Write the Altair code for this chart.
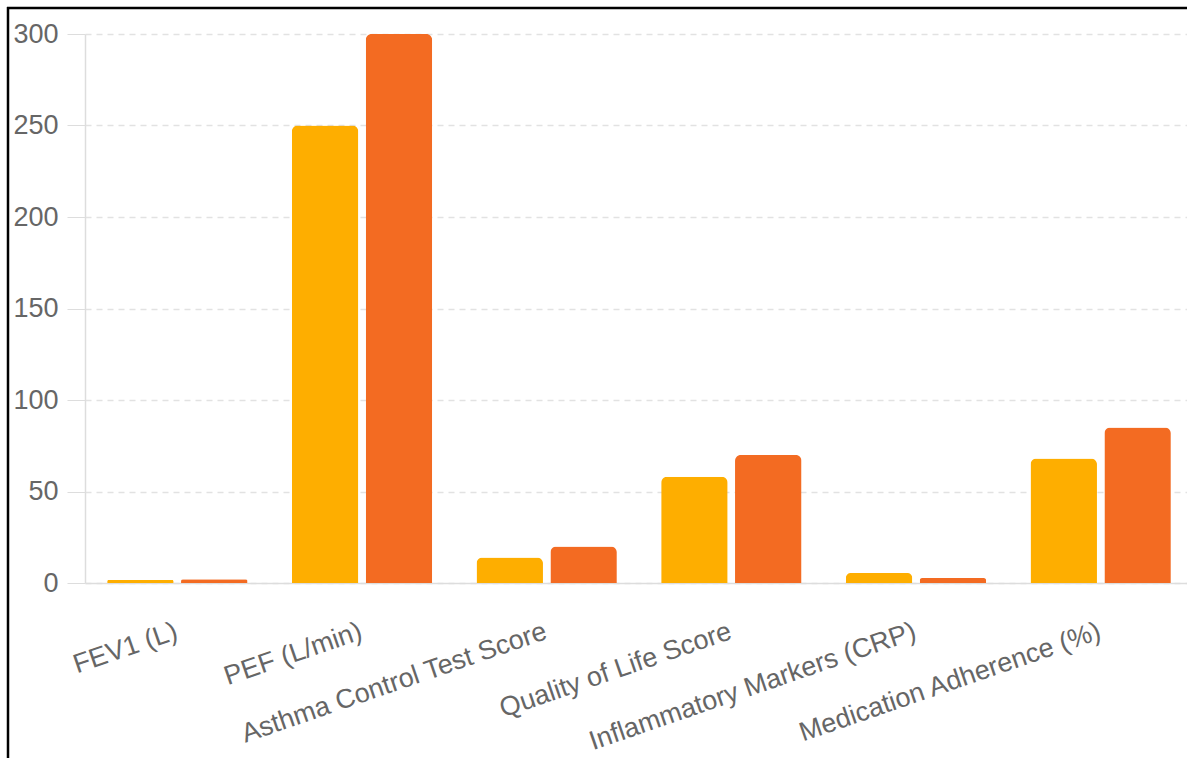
import altair as alt
import pandas as pd

categories = [
    "FEV1 (L)",
    "PEF (L/min)",
    "Asthma Control Test Score",
    "Quality of Life Score",
    "Inflammatory Markers (CRP)",
    "Medication Adherence (%)",
]
series_names = ["Baseline", "Follow-up"]
baseline = [1.6, 250, 14, 58, 5.5, 68]
follow_up = [2.1, 300, 20, 70, 2.7, 85]
y_ticks = [0, 50, 100, 150, 200, 250, 300]
colors = ["#FEAE00", "#F36B22"]

rows = []
for c, b, f in zip(categories, baseline, follow_up):
    rows.append({"Metric": c, "Series": series_names[0], "Value": b})
    rows.append({"Metric": c, "Series": series_names[1], "Value": f})
df = pd.DataFrame(rows)

W = 1102
H = 549
FULL_W = 1108  # plot continues past the cropped right edge

bars = alt.Chart(df).mark_bar(
    cornerRadiusTopLeft=6, cornerRadiusTopRight=6
).encode(
    x=alt.X(
        "Metric:N",
        sort=categories,
        title=None,
        scale=alt.Scale(paddingInner=0.2, paddingOuter=0.1, range=[0, FULL_W]),
        axis=alt.Axis(
            labelAngle=-19,
            labelAlign="right",
            labelBaseline="top",
            labelFontSize=27,
            labelColor="#666666",
            labelFont="Liberation Sans",
            labelPadding=35,
            labelOffset=-5,
            ticks=False,
            domain=True,
            domainColor="#dddddd",
            domainWidth=1.5,
            grid=False,
            labelOverlap=False,
            labelLimit=0,
        ),
    ),
    xOffset=alt.XOffset(
        "Series:N", sort=series_names,
        scale=alt.Scale(paddingInner=0.1, paddingOuter=0.05),
    ),
    y=alt.Y(
        "Value:Q",
        title=None,
        scale=alt.Scale(domain=[0, 300], nice=False),
        axis=alt.Axis(
            values=y_ticks,
            labelFontSize=27,
            labelColor="#666666",
            labelFont="Liberation Sans",
            labelPadding=9,
            tickSize=18,
            tickColor="#dddddd",
            domain=True,
            domainColor="#dddddd",
            domainWidth=1.5,
            grid=True,
            gridColor="#e2e2e2",
            gridDash=[6, 5],
            gridWidth=1.5,
        ),
    ),
    color=alt.Color(
        "Series:N", sort=series_names,
        scale=alt.Scale(domain=series_names, range=colors),
        legend=None,
    ),
)

frame_df = pd.DataFrame({"k": [0]})
left_border = alt.Chart(frame_df).mark_rule(color="black", strokeWidth=2.5).encode(
    x=alt.value(-77), y=alt.value(-27), y2=alt.value(740)
)
top_border = alt.Chart(frame_df).mark_rule(color="black", strokeWidth=2.5).encode(
    x=alt.value(-78), x2=alt.value(1120), y=alt.value(-26)
)

chart = alt.layer(bars, left_border, top_border).properties(
    width=W,
    height=H,
    autosize=alt.AutoSizeParams(type="none"),
    padding={"left": 85, "top": 34, "right": 0, "bottom": 175},
).configure(background="white").configure_view(stroke=None)

chart.save("out.html", embed_options={"renderer": "svg", "actions": False})
